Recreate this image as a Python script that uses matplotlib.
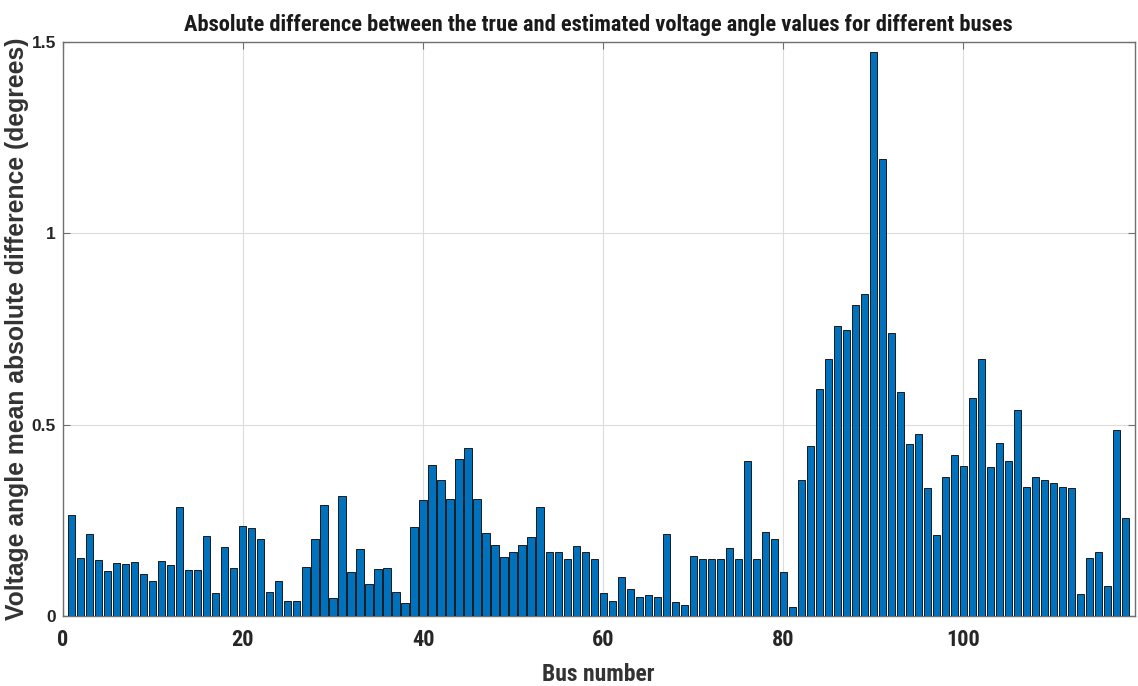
import numpy as np
import matplotlib
matplotlib.use("Agg")
import matplotlib.pyplot as plt
from matplotlib import font_manager

# Mean absolute voltage angle error per bus (degrees)
bus_numbers = np.arange(1, 119)
angle_diff = [
    0.265, 0.152, 0.215, 0.147, 0.117, 0.139, 0.137, 0.142, 0.109, 0.091,
    0.144, 0.132, 0.284, 0.121, 0.121, 0.209, 0.061, 0.181, 0.125, 0.234,
    0.229, 0.202, 0.064, 0.091, 0.038, 0.038, 0.127, 0.202, 0.289, 0.046,
    0.314, 0.114, 0.174, 0.084, 0.124, 0.126, 0.064, 0.034, 0.232, 0.303,
    0.395, 0.356, 0.306, 0.411, 0.439, 0.306, 0.216, 0.186, 0.154, 0.166,
    0.186, 0.206, 0.284, 0.168, 0.168, 0.149, 0.184, 0.166, 0.148, 0.059,
    0.039, 0.102, 0.071, 0.049, 0.054, 0.049, 0.214, 0.036, 0.029, 0.157,
    0.149, 0.149, 0.149, 0.179, 0.149, 0.406, 0.149, 0.219, 0.202, 0.116,
    0.023, 0.355, 0.445, 0.594, 0.671, 0.757, 0.748, 0.813, 0.840, 1.474,
    1.195, 0.740, 0.586, 0.450, 0.475, 0.335, 0.212, 0.362, 0.420, 0.393,
    0.570, 0.671, 0.390, 0.452, 0.405, 0.537, 0.337, 0.363, 0.355, 0.348,
    0.337, 0.334, 0.057, 0.152, 0.166, 0.079, 0.485, 0.257,
]
x_ticks = [0, 20, 40, 60, 80, 100]
y_ticks = [0, 0.5, 1, 1.5]
y_tick_labels = ["0", "0.5", "1", "1.5"]

# the original uses a condensed bold face for title / x axis; pick one if present
installed = {f.name for f in font_manager.fontManager.ttflist}
narrow_name = None
for cand in ["Liberation Sans Narrow", "Arial Narrow", "Roboto Condensed",
             "Open Sans Condensed", "Noto Sans Condensed"]:
    if cand in installed:
        narrow_name = cand
        break

wide = ["Liberation Sans", "DejaVu Sans"]
if narrow_name:
    narrow = [narrow_name, "DejaVu Sans"]
    title_size, xlab_size, xtick_size = 16.2, 17, 16
else:
    narrow = wide
    title_size, xlab_size, xtick_size = 13, 14, 13.5

fig = plt.figure(figsize=(11.38, 6.86), dpi=100)
ax = fig.add_axes([0.0551, 0.102, 0.9419, 0.837])

ax.bar(bus_numbers, angle_diff, width=0.8, color="#0072BD",
       edgecolor="#1a1a1a", linewidth=0.7, zorder=3)

ax.set_xlim(0, 119)
ax.set_ylim(0, 1.5)
ax.set_xticks(x_ticks)
ax.set_yticks(y_ticks)
ax.set_yticklabels(y_tick_labels)

# MATLAB-like look: box, inward ticks, light grid
ax.grid(True, color="#dcdcdc", linewidth=0.8, zorder=0)
ax.tick_params(direction="in", top=True, right=True, length=5,
               color="#707070")
ax.tick_params(axis="x", pad=9)
ax.tick_params(axis="y", pad=5)
for side in ax.spines.values():
    side.set_color("#707070")
    side.set_linewidth(1.0)

for lbl in ax.get_xticklabels():
    lbl.set_fontfamily(narrow)
    lbl.set_fontweight("bold")
    lbl.set_fontsize(xtick_size)
    lbl.set_color("#262626")
for lbl in ax.get_yticklabels():
    lbl.set_fontfamily(wide)
    lbl.set_fontweight("bold")
    lbl.set_fontsize(12.5)
    lbl.set_color("#262626")

ax.set_title("Absolute difference between the true and estimated voltage angle values for different buses",
             family=narrow, fontweight="bold", fontsize=title_size, color="#1a1a1a", pad=8)
ax.set_xlabel("Bus number", family=narrow, fontweight="bold", fontsize=xlab_size,
              color="#333333", labelpad=9)
ax.set_ylabel("Voltage angle mean absolute difference (degrees)", family=wide,
              fontweight="bold", fontsize=17.8, color="#333333", labelpad=1.5)

fig.savefig("out.png", dpi=100)
